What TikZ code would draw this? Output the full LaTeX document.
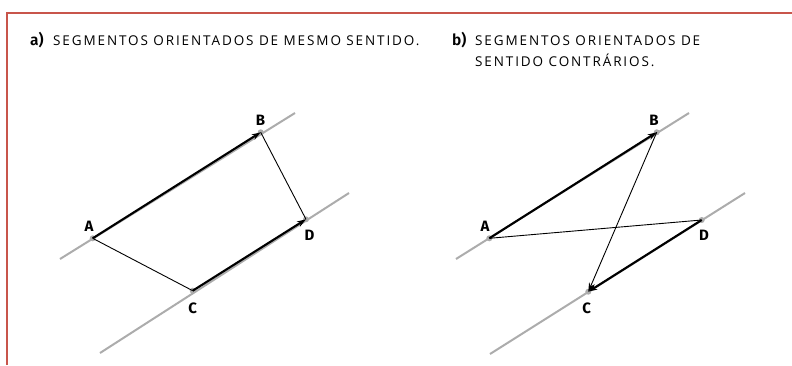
\documentclass[tikz,border=0pt]{standalone}
\usepackage{fontspec}
\setmainfont{Fira Sans}
\newfontfamily\capfont[LetterSpace=14]{Open Sans}
\newfontfamily\capbold{Fira Sans SemiBold}
\usetikzlibrary{arrows.meta}
\definecolor{framered}{RGB}{200,85,75}
\definecolor{lgray}{RGB}{172,172,172}
\begin{document}
\begin{tikzpicture}[x=1pt,y=-1pt,
  guide/.style={draw=lgray,line width=2pt},
  vecthick/.style={draw=black,line width=2.1pt,-{Stealth[length=9pt,width=6pt]}},
  vecthin/.style={draw=black,line width=0.9pt},
  vecthinarrow/.style={draw=black,line width=0.9pt,-{Stealth[length=9pt,width=6pt]}},
  dot/.style={fill=lgray},
  ptlabel/.style={font=\bfseries\fontsize{15}{17}\selectfont,inner sep=0pt},
  capletter/.style={anchor=base west,inner sep=0pt,font=\capbold\fontsize{15.5}{17}\selectfont},
  caption/.style={anchor=base west,inner sep=0pt,font=\capfont\fontsize{13.5}{15}\selectfont}
]
\useasboundingbox (0,0) rectangle (792,365);
% frame
\draw[framered,line width=1.5pt] (7,365) -- (7,13) -- (792,13);
% captions
\node[capletter] (capa) at (30,45) {a)};
\node[caption] (capat) at (53,45) {SEGMENTOS ORIENTADOS DE MESMO SENTIDO.};
\node[capletter] (capb) at (452,45) {b)};
\node[caption] (capbt) at (475,45) {SEGMENTOS ORIENTADOS DE};
\node[caption] (capbt2) at (475,66) {SENTIDO CONTRÁRIOS.};

% ---------- diagram a ----------
\coordinate (a1s) at (60,259);
\coordinate (a1e) at (295,113);
\coordinate (a2s) at (100,353);
\coordinate (a2e) at (349,193);
\coordinate (aA) at (92.7,238.3);
\coordinate (aB) at (260.7,132.3);
\coordinate (aC) at (192.7,290.7);
\coordinate (aD) at (306,219.3);
\draw[guide] (a1s) -- (a1e);
\draw[guide] (a2s) -- (a2e);
\foreach \p in {aA,aB,aC,aD} \fill[dot] (\p) circle (3pt);
\draw[vecthin] (aA) -- (aC);
\draw[vecthin] (aB) -- (aD);
\draw[vecthick] (aA) -- (aB);
\draw[vecthick] (aC) -- (aD);
\node[ptlabel] (laA) at (89,226) {A};
\node[ptlabel] (laB) at (260.5,120.5) {B};
\node[ptlabel] (laC) at (192.7,308) {C};
\node[ptlabel] (laD) at (309.5,235) {D};

% ---------- diagram b ----------
\coordinate (b1s) at (456,259);
\coordinate (b1e) at (689,113);
\coordinate (b2s) at (490,354);
\coordinate (b2e) at (745,193);
\coordinate (bA) at (489.3,238.3);
\coordinate (bB) at (656.7,132.3);
\coordinate (bC) at (588.3,291.7);
\coordinate (bD) at (701.7,220);
\draw[guide] (b1s) -- (b1e);
\draw[guide] (b2s) -- (b2e);
\foreach \p in {bA,bB,bC,bD} \fill[dot] (\p) circle (3pt);
\draw[vecthin] (bA) -- (bD);
\draw[vecthinarrow] (bB) -- (bC);
\draw[vecthick] (bA) -- (bB);
\draw[vecthick] (bD) -- (bC);
\node[ptlabel] (lbA) at (485,226) {A};
\node[ptlabel] (lbB) at (654,120) {B};
\node[ptlabel] (lbC) at (586.7,308) {C};
\node[ptlabel] (lbD) at (704,235) {D};
\end{tikzpicture}
\end{document}
